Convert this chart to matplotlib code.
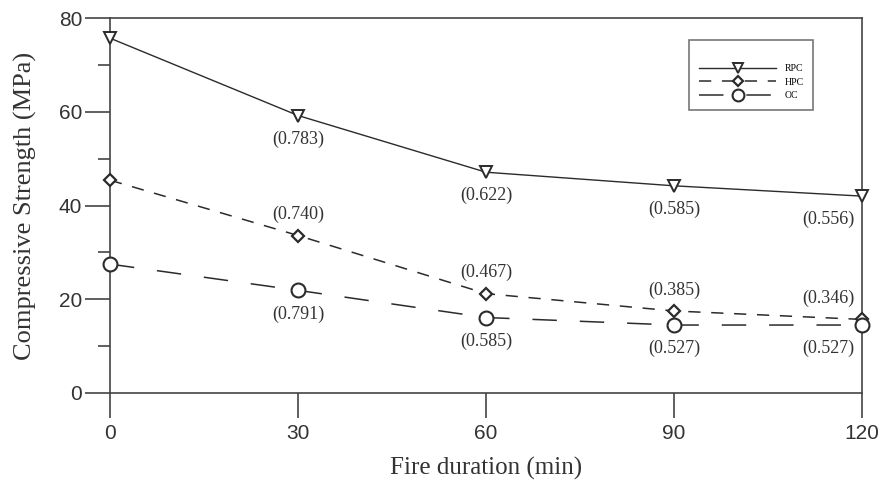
import matplotlib
matplotlib.use("Agg")
import matplotlib.pyplot as plt
from matplotlib.ticker import MultipleLocator

# Data
durations = [0, 30, 60, 90, 120]
rpc = [75.7, 59.2, 47.1, 44.2, 42.0]
hpc = [45.4, 33.6, 21.2, 17.5, 15.7]
oc = [27.5, 21.9, 16.1, 14.5, 14.5]
rpc_ratio = ["", "(0.783)", "(0.622)", "(0.585)", "(0.556)"]
hpc_ratio = ["", "(0.740)", "(0.467)", "(0.385)", "(0.346)"]
oc_ratio = ["", "(0.791)", "(0.585)", "(0.527)", "(0.527)"]
x_ticks = [0, 30, 60, 90, 120]
y_ticks = [0, 20, 40, 60, 80]

serif = ["Liberation Serif", "DejaVu Serif"]
sans = ["Liberation Sans", "DejaVu Sans"]
ink = "#2b2b2b"

fig = plt.figure(figsize=(8.85, 4.84), dpi=100)
ax = fig.add_axes([110/885, 1-393/484, (862-110)/885, (393-18)/484])

l1, = ax.plot(durations, rpc, color=ink, lw=1.0, marker="v", ms=9,
              mfc="white", mec=ink, mew=1.4, label="RPC", clip_on=False, zorder=3)
l2, = ax.plot(durations, hpc, color=ink, lw=1.1, marker="D", ms=6,
              mfc="white", mec=ink, mew=1.6, label="HPC", clip_on=False, zorder=3,
              dashes=(8, 7))
l3, = ax.plot(durations, oc, color=ink, lw=1.1, marker="o", ms=10,
              mfc="white", mec=ink, mew=1.5, label="OC", clip_on=False, zorder=3,
              dashes=(16, 15))

ax.set_xlim(0, 120)
ax.set_ylim(0, 80)
ax.set_xticks(x_ticks)
ax.set_yticks(y_ticks)
ax.yaxis.set_minor_locator(MultipleLocator(10))
ax.tick_params(axis="both", which="major", direction="out", length=18, width=1.2,
               colors="#444444", labelcolor="#333333", labelsize=15, pad=2)
ax.tick_params(axis="y", which="minor", direction="out", length=9, width=1.2, colors="#444444")
ax.tick_params(axis="x", which="major", pad=4)
for lab in ax.get_xticklabels() + ax.get_yticklabels():
    lab.set_family(sans)
for s in ax.spines.values():
    s.set_color("#444444")
    s.set_linewidth(1.2)

ax.set_xlabel("Fire duration (min)", family=serif, fontsize=18, color="#333333", labelpad=10)
ax.set_ylabel("Compressive Strength (MPa)", family=serif, fontsize=19, color="#333333", labelpad=16)

def annotate(vals, labels, dy, last_dx):
    for i, (x, y, t) in enumerate(zip(durations, vals, labels)):
        if not t:
            continue
        dx = last_dx if x == durations[-1] else 0
        ax.annotate(t, (x, y), xytext=(dx, dy), textcoords="offset points",
                    ha="center", va="center", family=serif, fontsize=13,
                    color="#333333", annotation_clip=False)

annotate(rpc, rpc_ratio, -17, -24)
annotate(hpc, hpc_ratio, 15, -24)
annotate(oc, oc_ratio, -17, -24)

leg = ax.legend(handles=[l1, l2, l3], loc="upper right", bbox_to_anchor=(0.935, 0.941),
                borderaxespad=0, prop={"family": serif, "size": 7}, frameon=True,
                fancybox=False, edgecolor="#555555", handlelength=8.0, handletextpad=0.8,
                labelspacing=0.45, borderpad=1.0, title=" ", title_fontsize=8,
                markerscale=0.85)
leg.get_frame().set_linewidth(1.2)

fig.savefig("out.png", dpi=100)
